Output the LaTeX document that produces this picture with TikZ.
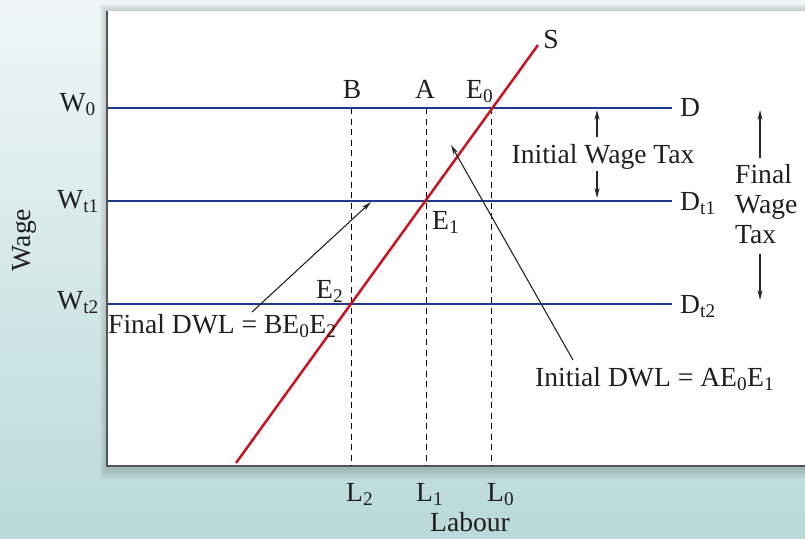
\documentclass[tikz,border=0pt]{standalone}
\usepackage{fontspec}
\setmainfont{Liberation Serif}
\usetikzlibrary{arrows.meta}
\definecolor{bgtop}{RGB}{240,246,246}
\definecolor{bgbot}{RGB}{186,217,217}
\definecolor{dblue}{RGB}{34,58,142}
\definecolor{dred}{RGB}{200,22,32}
\definecolor{axisgray}{RGB}{85,85,85}
\begin{document}
\begin{tikzpicture}[x=1pt,y=-1pt,
  lbl/.style={font=\fontsize{27.6}{30}\selectfont, inner sep=0pt, text=black!88},
  dline/.style={dblue, line width=2.9pt},
  sline/.style={dred, line width=2.5pt},
  vdash/.style={black, line width=1pt, dash pattern=on 6pt off 4.5pt},
  ptr/.style={black!85, line width=1.1pt, -{Stealth[length=10pt,width=5pt]}},
]
\useasboundingbox (0,0) rectangle (805,538);
\shade[top color=bgtop, bottom color=bgbot] (0,0) rectangle (805,538);
% soft shadow of the plot panel
\foreach \i in {1,...,7}
  \fill[black, opacity=0.025] (107-\i,11-\i) rectangle (812,466+2+\i*1.6);
\fill[white] (107,11) rectangle (812,466);
\draw[axisgray, line width=2pt] (107,11) -- (107,466) -- (812,466);

% key points
\coordinate (W0a) at (108,108); \coordinate (W0b) at (672,108);
\coordinate (W1a) at (108,201); \coordinate (W1b) at (672,201);
\coordinate (W2a) at (108,304); \coordinate (W2b) at (672,304);
\coordinate (Sa) at (236,463); \coordinate (Sb) at (538,45);
\coordinate (E0) at (491,108); \coordinate (E1) at (426,201); \coordinate (E2) at (351,304);
\coordinate (Bt) at (351,108); \coordinate (At) at (426,108);
\coordinate (B0) at (351,466); \coordinate (A0) at (426,466); \coordinate (C0) at (491,466);

% dashed verticals
\draw[vdash] (Bt) -- (B0);
\draw[vdash] (At) -- (A0);
\draw[vdash] (E0) -- (C0);

% demand lines
\draw[dline] (W0a) -- (W0b);
\draw[dline] (W1a) -- (W1b);
\draw[dline] (W2a) -- (W2b);

% supply
\draw[sline] (Sa) -- (Sb);

% labels
\node[lbl, anchor=base] (lS) at (551,48) {S};
\node[lbl, anchor=base west] (lD) at (680,116) {D};
\node[lbl, anchor=base west] (lDt1) at (680,210) {D\textsubscript{t1}};
\node[lbl, anchor=base west] (lDt2) at (680,313) {D\textsubscript{t2}};
\node[lbl, anchor=base east] (lW0) at (96,111) {W\textsubscript{0}};
\node[lbl, anchor=base east] (lWt1) at (99,208) {W\textsubscript{t1}};
\node[lbl, anchor=base east] (lWt2) at (99,309) {W\textsubscript{t2}};
\node[lbl, anchor=base] (lB) at (352,98) {B};
\node[lbl, anchor=base] (lA) at (425,98) {A};
\node[lbl, anchor=base west] (lE0) at (466,98) {E\textsubscript{0}};
\node[lbl, anchor=base west] (lE1) at (432,229) {E\textsubscript{1}};
\node[lbl, anchor=base west] (lE2) at (316,298) {E\textsubscript{2}};
\node[lbl, anchor=base west] (lL2) at (346,501) {L\textsubscript{2}};
\node[lbl, anchor=base west] (lL1) at (416,501) {L\textsubscript{1}};
\node[lbl, anchor=base west] (lL0) at (487,501) {L\textsubscript{0}};
\node[lbl, anchor=base] (lLab) at (470,531) {Labour};
\node[lbl, rotate=90] (lWage) at (24,240) {Wage};

% initial wage tax
\node[lbl, anchor=base] (iwt) at (603,163) {Initial Wage Tax};
\coordinate (iwtU) at (597,110);
\coordinate (iwtD) at (597,198);
\draw[ptr] (597,137) -- (iwtU);
\draw[ptr] (597,171) -- (iwtD);

% final wage tax
\node[lbl, anchor=north west, align=left] (fwt) at (735,164) {Final\\Wage\\Tax};
\coordinate (fwtU) at (760,110);
\coordinate (fwtD) at (760,300);
\draw[ptr] (760,158) -- (fwtU);
\draw[ptr] (760,254) -- (fwtD);

% DWL annotations
\node[lbl, anchor=base west] (fdwl) at (108,333) {Final DWL = BE\textsubscript{0}E\textsubscript{2}};
\node[lbl, anchor=base west] (idwl) at (535,386) {Initial DWL = AE\textsubscript{0}E\textsubscript{1}};
\coordinate (fdwlS) at (252,312); \coordinate (fdwlT) at (371,202);
\coordinate (idwlS) at (573,360); \coordinate (idwlT) at (451,145);
\draw[ptr] (fdwlS) -- (fdwlT);
\draw[ptr] (idwlS) -- (idwlT);
\end{tikzpicture}
\end{document}
